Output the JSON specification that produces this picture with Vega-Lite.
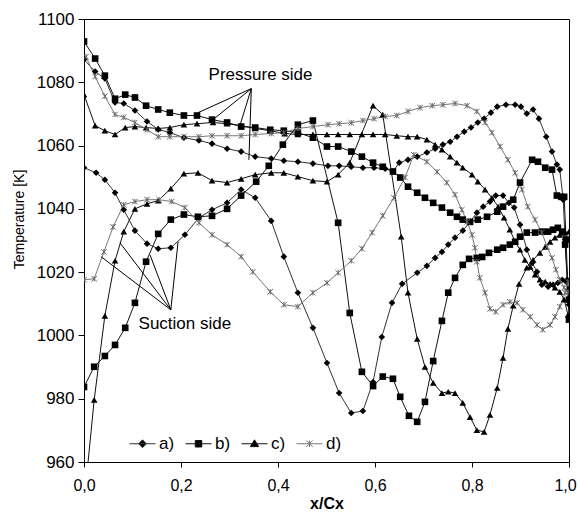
{
"$schema":"https://vega.github.io/schema/vega-lite/v6.json",
"width":485,"height":443,
"autosize":{"type":"none"},
"padding":{"left":84,"top":19,"right":9,"bottom":52},
"config":{"font":"Liberation Sans","view":{"stroke":"#000","strokeWidth":1},
"axis":{"grid":false,"domainColor":"#000","tickColor":"#000","labelColor":"#000","titleColor":"#000","labelFontSize":17,"labelFont":"Liberation Sans","titleFont":"Liberation Sans"}},
"datasets":{
"curves":[
{"s":"a)","b":"p","x":0,"T":1087.2},{"s":"a)","b":"p","x":0.023,"T":1083.4},{"s":"a)","b":"p","x":0.043,"T":1081.2},{"s":"a)","b":"p","x":0.064,"T":1073.6},{"s":"a)","b":"p","x":0.082,"T":1073.3},{"s":"a)","b":"p","x":0.105,"T":1071.1},{"s":"a)","b":"p","x":0.13,"T":1067.6},{"s":"a)","b":"p","x":0.153,"T":1065.1},{"s":"a)","b":"p","x":0.177,"T":1064.1},{"s":"a)","b":"p","x":0.206,"T":1062.5},{"s":"a)","b":"p","x":0.237,"T":1061.6},{"s":"a)","b":"p","x":0.264,"T":1060.6},{"s":"a)","b":"p","x":0.295,"T":1059.0},{"s":"a)","b":"p","x":0.324,"T":1058.1},{"s":"a)","b":"p","x":0.353,"T":1056.5},{"s":"a)","b":"p","x":0.386,"T":1055.9},{"s":"a)","b":"p","x":0.412,"T":1055.2},{"s":"a)","b":"p","x":0.441,"T":1054.9},{"s":"a)","b":"p","x":0.472,"T":1054.3},{"s":"a)","b":"p","x":0.503,"T":1053.6},{"s":"a)","b":"p","x":0.526,"T":1053.6},{"s":"a)","b":"p","x":0.551,"T":1053.3},{"s":"a)","b":"p","x":0.575,"T":1053.0},{"s":"a)","b":"p","x":0.598,"T":1053.0},{"s":"a)","b":"p","x":0.621,"T":1052.7},{"s":"a)","b":"p","x":0.637,"T":1051.8},{"s":"a)","b":"p","x":0.65,"T":1054.6},{"s":"a)","b":"p","x":0.668,"T":1055.5},{"s":"a)","b":"p","x":0.687,"T":1056.5},{"s":"a)","b":"p","x":0.707,"T":1057.8},{"s":"a)","b":"p","x":0.724,"T":1059.0},{"s":"a)","b":"p","x":0.74,"T":1060.3},{"s":"a)","b":"p","x":0.755,"T":1061.2},{"s":"a)","b":"p","x":0.769,"T":1062.8},{"s":"a)","b":"p","x":0.784,"T":1064.4},{"s":"a)","b":"p","x":0.798,"T":1065.7},{"s":"a)","b":"p","x":0.812,"T":1067.3},{"s":"a)","b":"p","x":0.825,"T":1068.5},{"s":"a)","b":"p","x":0.839,"T":1070.4},{"s":"a)","b":"p","x":0.852,"T":1072.3},{"s":"a)","b":"p","x":0.87,"T":1072.9},{"s":"a)","b":"p","x":0.889,"T":1072.9},{"s":"a)","b":"p","x":0.901,"T":1072.3},{"s":"a)","b":"p","x":0.913,"T":1070.1},{"s":"a)","b":"p","x":0.926,"T":1071.4},{"s":"a)","b":"p","x":0.938,"T":1068.5},{"s":"a)","b":"p","x":0.953,"T":1062.8},{"s":"a)","b":"p","x":0.965,"T":1058.1},{"s":"a)","b":"p","x":0.975,"T":1054.0},{"s":"a)","b":"p","x":0.981,"T":1052.4},{"s":"a)","b":"p","x":0.988,"T":1042.9},{"s":"a)","b":"p","x":0.992,"T":1030.3},{"s":"a)","b":"p","x":0.996,"T":1017.6},{"s":"a)","b":"p","x":1.0,"T":1009.7},
{"s":"a)","b":"s","x":0,"T":1053.0},{"s":"a)","b":"s","x":0.025,"T":1051.4},{"s":"a)","b":"s","x":0.043,"T":1049.2},{"s":"a)","b":"s","x":0.064,"T":1045.1},{"s":"a)","b":"s","x":0.082,"T":1039.7},{"s":"a)","b":"s","x":0.105,"T":1033.1},{"s":"a)","b":"s","x":0.13,"T":1029.0},{"s":"a)","b":"s","x":0.153,"T":1027.4},{"s":"a)","b":"s","x":0.179,"T":1027.7},{"s":"a)","b":"s","x":0.208,"T":1031.8},{"s":"a)","b":"s","x":0.237,"T":1037.2},{"s":"a)","b":"s","x":0.264,"T":1039.7},{"s":"a)","b":"s","x":0.295,"T":1041.9},{"s":"a)","b":"s","x":0.324,"T":1046.1},{"s":"a)","b":"s","x":0.353,"T":1043.5},{"s":"a)","b":"s","x":0.386,"T":1036.2},{"s":"a)","b":"s","x":0.412,"T":1024.9},{"s":"a)","b":"s","x":0.441,"T":1013.5},{"s":"a)","b":"s","x":0.472,"T":1002.4},{"s":"a)","b":"s","x":0.501,"T":991.3},{"s":"a)","b":"s","x":0.526,"T":981.8},{"s":"a)","b":"s","x":0.551,"T":975.5},{"s":"a)","b":"s","x":0.575,"T":976.1},{"s":"a)","b":"s","x":0.596,"T":985.3},{"s":"a)","b":"s","x":0.614,"T":999.5},{"s":"a)","b":"s","x":0.635,"T":1010.3},{"s":"a)","b":"s","x":0.656,"T":1016.3},{"s":"a)","b":"s","x":0.687,"T":1019.8},{"s":"a)","b":"s","x":0.707,"T":1022.0},{"s":"a)","b":"s","x":0.724,"T":1024.5},{"s":"a)","b":"s","x":0.738,"T":1026.4},{"s":"a)","b":"s","x":0.751,"T":1028.7},{"s":"a)","b":"s","x":0.765,"T":1030.9},{"s":"a)","b":"s","x":0.781,"T":1033.1},{"s":"a)","b":"s","x":0.796,"T":1035.9},{"s":"a)","b":"s","x":0.81,"T":1038.8},{"s":"a)","b":"s","x":0.823,"T":1040.7},{"s":"a)","b":"s","x":0.837,"T":1042.3},{"s":"a)","b":"s","x":0.849,"T":1044.2},{"s":"a)","b":"s","x":0.864,"T":1044.2},{"s":"a)","b":"s","x":0.876,"T":1041.9},{"s":"a)","b":"s","x":0.887,"T":1040.4},{"s":"a)","b":"s","x":0.899,"T":1035.0},{"s":"a)","b":"s","x":0.913,"T":1027.1},{"s":"a)","b":"s","x":0.924,"T":1022.9},{"s":"a)","b":"s","x":0.934,"T":1020.1},{"s":"a)","b":"s","x":0.944,"T":1016.0},{"s":"a)","b":"s","x":0.957,"T":1015.4},{"s":"a)","b":"s","x":0.967,"T":1016.0},{"s":"a)","b":"s","x":0.977,"T":1016.6},{"s":"a)","b":"s","x":0.986,"T":1017.6},{"s":"a)","b":"s","x":0.994,"T":1017.0},{"s":"a)","b":"s","x":1.0,"T":1014.4},
{"s":"b)","b":"p","x":0,"T":1092.9},{"s":"b)","b":"p","x":0.023,"T":1087.5},{"s":"b)","b":"p","x":0.043,"T":1082.1},{"s":"b)","b":"p","x":0.064,"T":1074.8},{"s":"b)","b":"p","x":0.085,"T":1076.1},{"s":"b)","b":"p","x":0.105,"T":1075.2},{"s":"b)","b":"p","x":0.128,"T":1072.6},{"s":"b)","b":"p","x":0.153,"T":1071.4},{"s":"b)","b":"p","x":0.177,"T":1070.4},{"s":"b)","b":"p","x":0.206,"T":1069.5},{"s":"b)","b":"p","x":0.233,"T":1069.5},{"s":"b)","b":"p","x":0.264,"T":1068.2},{"s":"b)","b":"p","x":0.295,"T":1067.3},{"s":"b)","b":"p","x":0.324,"T":1066.0},{"s":"b)","b":"p","x":0.353,"T":1065.7},{"s":"b)","b":"p","x":0.384,"T":1065.0},{"s":"b)","b":"p","x":0.412,"T":1064.7},{"s":"b)","b":"p","x":0.441,"T":1064.1},{"s":"b)","b":"p","x":0.472,"T":1062.5},{"s":"b)","b":"p","x":0.501,"T":1059.7},{"s":"b)","b":"p","x":0.524,"T":1059.7},{"s":"b)","b":"p","x":0.551,"T":1058.1},{"s":"b)","b":"p","x":0.573,"T":1056.5},{"s":"b)","b":"p","x":0.596,"T":1054.6},{"s":"b)","b":"p","x":0.616,"T":1053.3},{"s":"b)","b":"p","x":0.637,"T":1051.8},{"s":"b)","b":"p","x":0.652,"T":1049.9},{"s":"b)","b":"p","x":0.668,"T":1047.0},{"s":"b)","b":"p","x":0.687,"T":1045.1},{"s":"b)","b":"p","x":0.703,"T":1043.5},{"s":"b)","b":"p","x":0.72,"T":1041.9},{"s":"b)","b":"p","x":0.738,"T":1040.4},{"s":"b)","b":"p","x":0.755,"T":1038.8},{"s":"b)","b":"p","x":0.769,"T":1037.5},{"s":"b)","b":"p","x":0.781,"T":1036.6},{"s":"b)","b":"p","x":0.796,"T":1035.9},{"s":"b)","b":"p","x":0.812,"T":1036.6},{"s":"b)","b":"p","x":0.831,"T":1037.5},{"s":"b)","b":"p","x":0.852,"T":1039.1},{"s":"b)","b":"p","x":0.864,"T":1040.7},{"s":"b)","b":"p","x":0.885,"T":1042.9},{"s":"b)","b":"p","x":0.899,"T":1048.3},{"s":"b)","b":"p","x":0.924,"T":1055.5},{"s":"b)","b":"p","x":0.936,"T":1054.9},{"s":"b)","b":"p","x":0.951,"T":1053.0},{"s":"b)","b":"p","x":0.965,"T":1052.4},{"s":"b)","b":"p","x":0.975,"T":1044.2},{"s":"b)","b":"p","x":0.984,"T":1043.8},{"s":"b)","b":"p","x":0.99,"T":1043.8},{"s":"b)","b":"p","x":0.994,"T":1030.3},{"s":"b)","b":"p","x":1.0,"T":1005.0},
{"s":"b)","b":"s","x":0,"T":983.7},{"s":"b)","b":"s","x":0.021,"T":990.1},{"s":"b)","b":"s","x":0.043,"T":993.5},{"s":"b)","b":"s","x":0.064,"T":997.0},{"s":"b)","b":"s","x":0.085,"T":1002.4},{"s":"b)","b":"s","x":0.105,"T":1010.3},{"s":"b)","b":"s","x":0.128,"T":1023.3},{"s":"b)","b":"s","x":0.153,"T":1032.1},{"s":"b)","b":"s","x":0.179,"T":1036.6},{"s":"b)","b":"s","x":0.206,"T":1038.2},{"s":"b)","b":"s","x":0.235,"T":1037.5},{"s":"b)","b":"s","x":0.264,"T":1037.8},{"s":"b)","b":"s","x":0.295,"T":1040.0},{"s":"b)","b":"s","x":0.324,"T":1044.2},{"s":"b)","b":"s","x":0.355,"T":1048.6},{"s":"b)","b":"s","x":0.381,"T":1053.6},{"s":"b)","b":"s","x":0.41,"T":1060.3},{"s":"b)","b":"s","x":0.441,"T":1066.6},{"s":"b)","b":"s","x":0.472,"T":1067.9},{"s":"b)","b":"s","x":0.524,"T":1035.6},{"s":"b)","b":"s","x":0.548,"T":1007.1},{"s":"b)","b":"s","x":0.573,"T":988.5},{"s":"b)","b":"s","x":0.596,"T":984.0},{"s":"b)","b":"s","x":0.616,"T":987.0},{"s":"b)","b":"s","x":0.637,"T":986.3},{"s":"b)","b":"s","x":0.652,"T":980.6},{"s":"b)","b":"s","x":0.67,"T":974.6},{"s":"b)","b":"s","x":0.687,"T":972.7},{"s":"b)","b":"s","x":0.703,"T":979.0},{"s":"b)","b":"s","x":0.72,"T":991.9},{"s":"b)","b":"s","x":0.738,"T":1004.6},{"s":"b)","b":"s","x":0.751,"T":1013.5},{"s":"b)","b":"s","x":0.765,"T":1018.2},{"s":"b)","b":"s","x":0.781,"T":1022.3},{"s":"b)","b":"s","x":0.794,"T":1024.2},{"s":"b)","b":"s","x":0.81,"T":1024.5},{"s":"b)","b":"s","x":0.821,"T":1024.8},{"s":"b)","b":"s","x":0.835,"T":1026.1},{"s":"b)","b":"s","x":0.852,"T":1027.1},{"s":"b)","b":"s","x":0.864,"T":1027.7},{"s":"b)","b":"s","x":0.878,"T":1028.7},{"s":"b)","b":"s","x":0.889,"T":1029.6},{"s":"b)","b":"s","x":0.899,"T":1031.2},{"s":"b)","b":"s","x":0.913,"T":1032.5},{"s":"b)","b":"s","x":0.93,"T":1032.5},{"s":"b)","b":"s","x":0.944,"T":1032.8},{"s":"b)","b":"s","x":0.957,"T":1032.8},{"s":"b)","b":"s","x":0.967,"T":1033.4},{"s":"b)","b":"s","x":0.977,"T":1034.0},{"s":"b)","b":"s","x":0.986,"T":1032.8},{"s":"b)","b":"s","x":0.992,"T":1028.7},{"s":"b)","b":"s","x":1.0,"T":1011.3},
{"s":"c)","b":"p","x":0,"T":1076.1},{"s":"c)","b":"p","x":0.023,"T":1066.3},{"s":"c)","b":"p","x":0.043,"T":1064.7},{"s":"c)","b":"p","x":0.064,"T":1063.5},{"s":"c)","b":"p","x":0.085,"T":1065.7},{"s":"c)","b":"p","x":0.105,"T":1066.0},{"s":"c)","b":"p","x":0.128,"T":1065.7},{"s":"c)","b":"p","x":0.153,"T":1065.4},{"s":"c)","b":"p","x":0.177,"T":1065.7},{"s":"c)","b":"p","x":0.206,"T":1066.6},{"s":"c)","b":"p","x":0.233,"T":1066.9},{"s":"c)","b":"p","x":0.266,"T":1067.3},{"s":"c)","b":"p","x":0.295,"T":1066.9},{"s":"c)","b":"p","x":0.324,"T":1066.3},{"s":"c)","b":"p","x":0.353,"T":1065.4},{"s":"c)","b":"p","x":0.384,"T":1064.7},{"s":"c)","b":"p","x":0.414,"T":1063.8},{"s":"c)","b":"p","x":0.441,"T":1063.5},{"s":"c)","b":"p","x":0.472,"T":1063.5},{"s":"c)","b":"p","x":0.501,"T":1063.5},{"s":"c)","b":"p","x":0.524,"T":1063.5},{"s":"c)","b":"p","x":0.548,"T":1063.5},{"s":"c)","b":"p","x":0.573,"T":1063.5},{"s":"c)","b":"p","x":0.596,"T":1063.5},{"s":"c)","b":"p","x":0.621,"T":1063.5},{"s":"c)","b":"p","x":0.645,"T":1063.1},{"s":"c)","b":"p","x":0.668,"T":1062.8},{"s":"c)","b":"p","x":0.687,"T":1062.8},{"s":"c)","b":"p","x":0.707,"T":1061.9},{"s":"c)","b":"p","x":0.724,"T":1060.3},{"s":"c)","b":"p","x":0.738,"T":1058.7},{"s":"c)","b":"p","x":0.755,"T":1056.5},{"s":"c)","b":"p","x":0.769,"T":1054.6},{"s":"c)","b":"p","x":0.781,"T":1053.0},{"s":"c)","b":"p","x":0.8,"T":1050.8},{"s":"c)","b":"p","x":0.812,"T":1048.6},{"s":"c)","b":"p","x":0.827,"T":1046.1},{"s":"c)","b":"p","x":0.841,"T":1043.5},{"s":"c)","b":"p","x":0.854,"T":1040.7},{"s":"c)","b":"p","x":0.866,"T":1037.2},{"s":"c)","b":"p","x":0.878,"T":1033.4},{"s":"c)","b":"p","x":0.889,"T":1029.6},{"s":"c)","b":"p","x":0.899,"T":1027.1},{"s":"c)","b":"p","x":0.909,"T":1023.9},{"s":"c)","b":"p","x":0.92,"T":1021.7},{"s":"c)","b":"p","x":0.93,"T":1019.2},{"s":"c)","b":"p","x":0.94,"T":1017.6},{"s":"c)","b":"p","x":0.951,"T":1017.0},{"s":"c)","b":"p","x":0.961,"T":1016.3},{"s":"c)","b":"p","x":0.971,"T":1015.1},{"s":"c)","b":"p","x":0.981,"T":1013.8},{"s":"c)","b":"p","x":0.99,"T":1011.3},{"s":"c)","b":"p","x":0.998,"T":1006.5},
{"s":"c)","b":"s","x":0,"T":947.0},{"s":"c)","b":"s","x":0.021,"T":979.6},{"s":"c)","b":"s","x":0.043,"T":1006.2},{"s":"c)","b":"s","x":0.064,"T":1023.6},{"s":"c)","b":"s","x":0.082,"T":1032.8},{"s":"c)","b":"s","x":0.105,"T":1040.0},{"s":"c)","b":"s","x":0.13,"T":1041.6},{"s":"c)","b":"s","x":0.153,"T":1042.6},{"s":"c)","b":"s","x":0.179,"T":1046.4},{"s":"c)","b":"s","x":0.206,"T":1051.1},{"s":"c)","b":"s","x":0.235,"T":1051.4},{"s":"c)","b":"s","x":0.264,"T":1048.9},{"s":"c)","b":"s","x":0.295,"T":1048.3},{"s":"c)","b":"s","x":0.324,"T":1049.5},{"s":"c)","b":"s","x":0.353,"T":1050.8},{"s":"c)","b":"s","x":0.386,"T":1051.4},{"s":"c)","b":"s","x":0.412,"T":1051.4},{"s":"c)","b":"s","x":0.441,"T":1050.2},{"s":"c)","b":"s","x":0.472,"T":1048.9},{"s":"c)","b":"s","x":0.501,"T":1048.6},{"s":"c)","b":"s","x":0.524,"T":1050.8},{"s":"c)","b":"s","x":0.548,"T":1054.6},{"s":"c)","b":"s","x":0.596,"T":1072.6},{"s":"c)","b":"s","x":0.616,"T":1069.8},{"s":"c)","b":"s","x":0.654,"T":1031.2},{"s":"c)","b":"s","x":0.668,"T":1013.5},{"s":"c)","b":"s","x":0.687,"T":998.9},{"s":"c)","b":"s","x":0.703,"T":990.1},{"s":"c)","b":"s","x":0.72,"T":985.0},{"s":"c)","b":"s","x":0.738,"T":981.8},{"s":"c)","b":"s","x":0.751,"T":982.2},{"s":"c)","b":"s","x":0.765,"T":981.8},{"s":"c)","b":"s","x":0.781,"T":978.7},{"s":"c)","b":"s","x":0.796,"T":974.2},{"s":"c)","b":"s","x":0.81,"T":970.1},{"s":"c)","b":"s","x":0.825,"T":969.5},{"s":"c)","b":"s","x":0.837,"T":974.9},{"s":"c)","b":"s","x":0.852,"T":983.4},{"s":"c)","b":"s","x":0.864,"T":992.9},{"s":"c)","b":"s","x":0.874,"T":1002.1},{"s":"c)","b":"s","x":0.885,"T":1009.4},{"s":"c)","b":"s","x":0.897,"T":1016.3},{"s":"c)","b":"s","x":0.913,"T":1021.4},{"s":"c)","b":"s","x":0.926,"T":1023.9},{"s":"c)","b":"s","x":0.94,"T":1026.1},{"s":"c)","b":"s","x":0.951,"T":1028.0},{"s":"c)","b":"s","x":0.961,"T":1029.6},{"s":"c)","b":"s","x":0.971,"T":1030.9},{"s":"c)","b":"s","x":0.981,"T":1031.8},{"s":"c)","b":"s","x":0.992,"T":1032.5},{"s":"c)","b":"s","x":1.0,"T":1032.8},
{"s":"d)","b":"p","x":0.004,"T":1088.1},{"s":"d)","b":"p","x":0.023,"T":1081.8},{"s":"d)","b":"p","x":0.043,"T":1075.6},{"s":"d)","b":"p","x":0.064,"T":1069.8},{"s":"d)","b":"p","x":0.082,"T":1068.9},{"s":"d)","b":"p","x":0.105,"T":1067.3},{"s":"d)","b":"p","x":0.13,"T":1065.0},{"s":"d)","b":"p","x":0.153,"T":1062.8},{"s":"d)","b":"p","x":0.177,"T":1062.8},{"s":"d)","b":"p","x":0.206,"T":1062.8},{"s":"d)","b":"p","x":0.237,"T":1062.8},{"s":"d)","b":"p","x":0.264,"T":1063.1},{"s":"d)","b":"p","x":0.295,"T":1063.1},{"s":"d)","b":"p","x":0.324,"T":1063.1},{"s":"d)","b":"p","x":0.353,"T":1063.5},{"s":"d)","b":"p","x":0.386,"T":1063.8},{"s":"d)","b":"p","x":0.412,"T":1064.1},{"s":"d)","b":"p","x":0.441,"T":1065.4},{"s":"d)","b":"p","x":0.472,"T":1066.0},{"s":"d)","b":"p","x":0.503,"T":1066.6},{"s":"d)","b":"p","x":0.526,"T":1066.9},{"s":"d)","b":"p","x":0.551,"T":1067.2},{"s":"d)","b":"p","x":0.575,"T":1067.9},{"s":"d)","b":"p","x":0.598,"T":1068.5},{"s":"d)","b":"p","x":0.621,"T":1069.2},{"s":"d)","b":"p","x":0.645,"T":1069.5},{"s":"d)","b":"p","x":0.668,"T":1070.8},{"s":"d)","b":"p","x":0.693,"T":1072.0},{"s":"d)","b":"p","x":0.718,"T":1072.6},{"s":"d)","b":"p","x":0.74,"T":1072.9},{"s":"d)","b":"p","x":0.765,"T":1073.3},{"s":"d)","b":"p","x":0.79,"T":1072.6},{"s":"d)","b":"p","x":0.81,"T":1070.8},{"s":"d)","b":"p","x":0.827,"T":1067.3},{"s":"d)","b":"p","x":0.841,"T":1064.1},{"s":"d)","b":"p","x":0.858,"T":1059.7},{"s":"d)","b":"p","x":0.874,"T":1055.5},{"s":"d)","b":"p","x":0.889,"T":1051.4},{"s":"d)","b":"p","x":0.903,"T":1046.1},{"s":"d)","b":"p","x":0.915,"T":1040.7},{"s":"d)","b":"p","x":0.93,"T":1036.6},{"s":"d)","b":"p","x":0.944,"T":1032.5},{"s":"d)","b":"p","x":0.955,"T":1028.0},{"s":"d)","b":"p","x":0.965,"T":1024.5},{"s":"d)","b":"p","x":0.973,"T":1020.8},{"s":"d)","b":"p","x":0.981,"T":1017.6},{"s":"d)","b":"p","x":0.99,"T":1015.1},{"s":"d)","b":"p","x":0.998,"T":1013.8},
{"s":"d)","b":"s","x":0,"T":1017.6},{"s":"d)","b":"s","x":0.021,"T":1017.9},{"s":"d)","b":"s","x":0.041,"T":1026.4},{"s":"d)","b":"s","x":0.06,"T":1034.3},{"s":"d)","b":"s","x":0.082,"T":1041.3},{"s":"d)","b":"s","x":0.105,"T":1042.3},{"s":"d)","b":"s","x":0.13,"T":1042.9},{"s":"d)","b":"s","x":0.155,"T":1042.9},{"s":"d)","b":"s","x":0.181,"T":1042.3},{"s":"d)","b":"s","x":0.208,"T":1040.4},{"s":"d)","b":"s","x":0.237,"T":1035.6},{"s":"d)","b":"s","x":0.264,"T":1031.8},{"s":"d)","b":"s","x":0.295,"T":1028.7},{"s":"d)","b":"s","x":0.324,"T":1024.9},{"s":"d)","b":"s","x":0.348,"T":1020.1},{"s":"d)","b":"s","x":0.384,"T":1013.8},{"s":"d)","b":"s","x":0.412,"T":1009.7},{"s":"d)","b":"s","x":0.441,"T":1009.1},{"s":"d)","b":"s","x":0.472,"T":1013.5},{"s":"d)","b":"s","x":0.501,"T":1016.6},{"s":"d)","b":"s","x":0.524,"T":1019.8},{"s":"d)","b":"s","x":0.551,"T":1023.6},{"s":"d)","b":"s","x":0.573,"T":1027.4},{"s":"d)","b":"s","x":0.594,"T":1032.5},{"s":"d)","b":"s","x":0.616,"T":1037.8},{"s":"d)","b":"s","x":0.639,"T":1043.5},{"s":"d)","b":"s","x":0.662,"T":1049.9},{"s":"d)","b":"s","x":0.68,"T":1057.1},{"s":"d)","b":"s","x":0.707,"T":1054.9},{"s":"d)","b":"s","x":0.728,"T":1051.7},{"s":"d)","b":"s","x":0.748,"T":1048.3},{"s":"d)","b":"s","x":0.765,"T":1044.5},{"s":"d)","b":"s","x":0.779,"T":1039.7},{"s":"d)","b":"s","x":0.79,"T":1035.9},{"s":"d)","b":"s","x":0.8,"T":1031.8},{"s":"d)","b":"s","x":0.806,"T":1027.7},{"s":"d)","b":"s","x":0.81,"T":1023.3},{"s":"d)","b":"s","x":0.816,"T":1018.2},{"s":"d)","b":"s","x":0.827,"T":1013.5},{"s":"d)","b":"s","x":0.837,"T":1008.4},{"s":"d)","b":"s","x":0.849,"T":1007.5},{"s":"d)","b":"s","x":0.864,"T":1009.7},{"s":"d)","b":"s","x":0.878,"T":1010.6},{"s":"d)","b":"s","x":0.893,"T":1010.3},{"s":"d)","b":"s","x":0.905,"T":1008.1},{"s":"d)","b":"s","x":0.92,"T":1005.9},{"s":"d)","b":"s","x":0.934,"T":1003.3},{"s":"d)","b":"s","x":0.946,"T":1001.8},{"s":"d)","b":"s","x":0.961,"T":1003.3},{"s":"d)","b":"s","x":0.971,"T":1005.9},{"s":"d)","b":"s","x":0.981,"T":1009.1},{"s":"d)","b":"s","x":0.992,"T":1013.5},{"s":"d)","b":"s","x":0.998,"T":1017.0}
],
"ann":[
{"x":0.345,"y":1078.0,"x2":0.235,"y2":1070.4},
{"x":0.345,"y":1078.0,"x2":0.266,"y2":1068.2},
{"x":0.345,"y":1078.0,"x2":0.322,"y2":1066.6},
{"x":0.345,"y":1078.0,"x2":0.340,"y2":1055.5},
{"x":0.179,"y":1008.1,"x2":0.035,"y2":1024.9},
{"x":0.179,"y":1008.1,"x2":0.074,"y2":1029.3},
{"x":0.179,"y":1008.1,"x2":0.136,"y2":1025.5},
{"x":0.179,"y":1008.1,"x2":0.194,"y2":1029.6}
],
"txt":[
{"t":"Pressure side","x":0.364,"y":1082.4},
{"t":"Suction side","x":0.208,"y":1003.7}
]
},
"layer":[
{"data":{"name":"curves"},
"mark":{"type":"line","strokeWidth":1,"clip":true},
"encoding":{
"x":{"field":"x","type":"quantitative","scale":{"domain":[0,1],"nice":false},
"axis":{"values":[0,0.2,0.4,0.6,0.8,1],"labelExpr":"replace(format(datum.value,'.1f'),'.',',')","labelFlush":false,"labelFontSize":16,"labelOffset":{"condition":{"test":"datum.value>=0.99","value":-4},"value":0},"tickSize":5,"labelPadding":10,"title":"x/Cx","titleFontSize":16,"titleFontWeight":"bold","titlePadding":2}},
"y":{"field":"T","type":"quantitative","scale":{"domain":[960,1100],"nice":false,"zero":false},
"axis":{"values":[960,970,980,990,1000,1010,1020,1030,1040,1050,1060,1070,1080,1090,1100],"format":"d","tickSize":6,"labelPadding":4,"title":"Temperature [K]","titleFontSize":14,"titleFontWeight":"normal","titleX":-65,"titleY":200,"titleBaseline":"middle"}},
"stroke":{"field":"s","type":"nominal","scale":{"domain":["a)","b)","c)","d)"],"range":["#333","#111","#111","#777"]},
"legend":{"orient":"none","legendX":45,"legendY":411,"direction":"horizontal","title":null,"symbolSize":676,"symbolStrokeWidth":1,"labelFontSize":17,"labelColor":"#000","labelOffset":3,"columnPadding":8,"padding":0,
"encode":{"symbols":{"update":{
"shape":{"signal":"datum.value==='a)'?'M-1,0L1,0M0,-0.3L0.3,0L0,0.3L-0.3,0Z':datum.value==='b)'?'M-1,0L1,0M-0.25,-0.25L0.25,-0.25L0.25,0.25L-0.25,0.25Z':datum.value==='c)'?'M-1,0L1,0M0,-0.3L0.32,0.22L-0.32,0.22Z':'M-1,0L1,0M-0.25,-0.25L0.25,0.25M-0.25,0.25L0.25,-0.25M0,-0.25L0,0.25'"},
"fill":{"signal":"datum.value==='d)'?'transparent':'#000'"}}}}}},
"detail":{"field":"b","type":"nominal"}}},
{"data":{"name":"curves"},
"transform":[{"filter":"datum.s!=='d)'"}],
"mark":{"type":"point","filled":true,"color":"#000","opacity":1,"size":44,"clip":true},
"encoding":{
"x":{"field":"x","type":"quantitative"},
"y":{"field":"T","type":"quantitative"},
"shape":{"field":"s","type":"nominal","scale":{"domain":["a)","b)","c)"],"range":["diamond","square","triangle-up"]},"legend":null}}},
{"data":{"name":"curves"},
"transform":[{"filter":"datum.s==='d)'"}],
"mark":{"type":"point","shape":"M-1,-1L1,1M-1,1L1,-1M0,-1L0,1","filled":false,"stroke":"#666","strokeWidth":1,"opacity":1,"size":30,"clip":true},
"encoding":{
"x":{"field":"x","type":"quantitative"},
"y":{"field":"T","type":"quantitative"}}},
{"data":{"name":"ann"},
"mark":{"type":"rule","color":"#000","strokeWidth":1},
"encoding":{
"x":{"field":"x","type":"quantitative"},
"y":{"field":"y","type":"quantitative"},
"x2":{"field":"x2"},
"y2":{"field":"y2"}}},
{"data":{"name":"txt"},
"mark":{"type":"text","fontSize":17,"align":"center","baseline":"middle","color":"#000","font":"Liberation Sans"},
"encoding":{
"x":{"field":"x","type":"quantitative"},
"y":{"field":"y","type":"quantitative"},
"text":{"field":"t"}}}
]
}
